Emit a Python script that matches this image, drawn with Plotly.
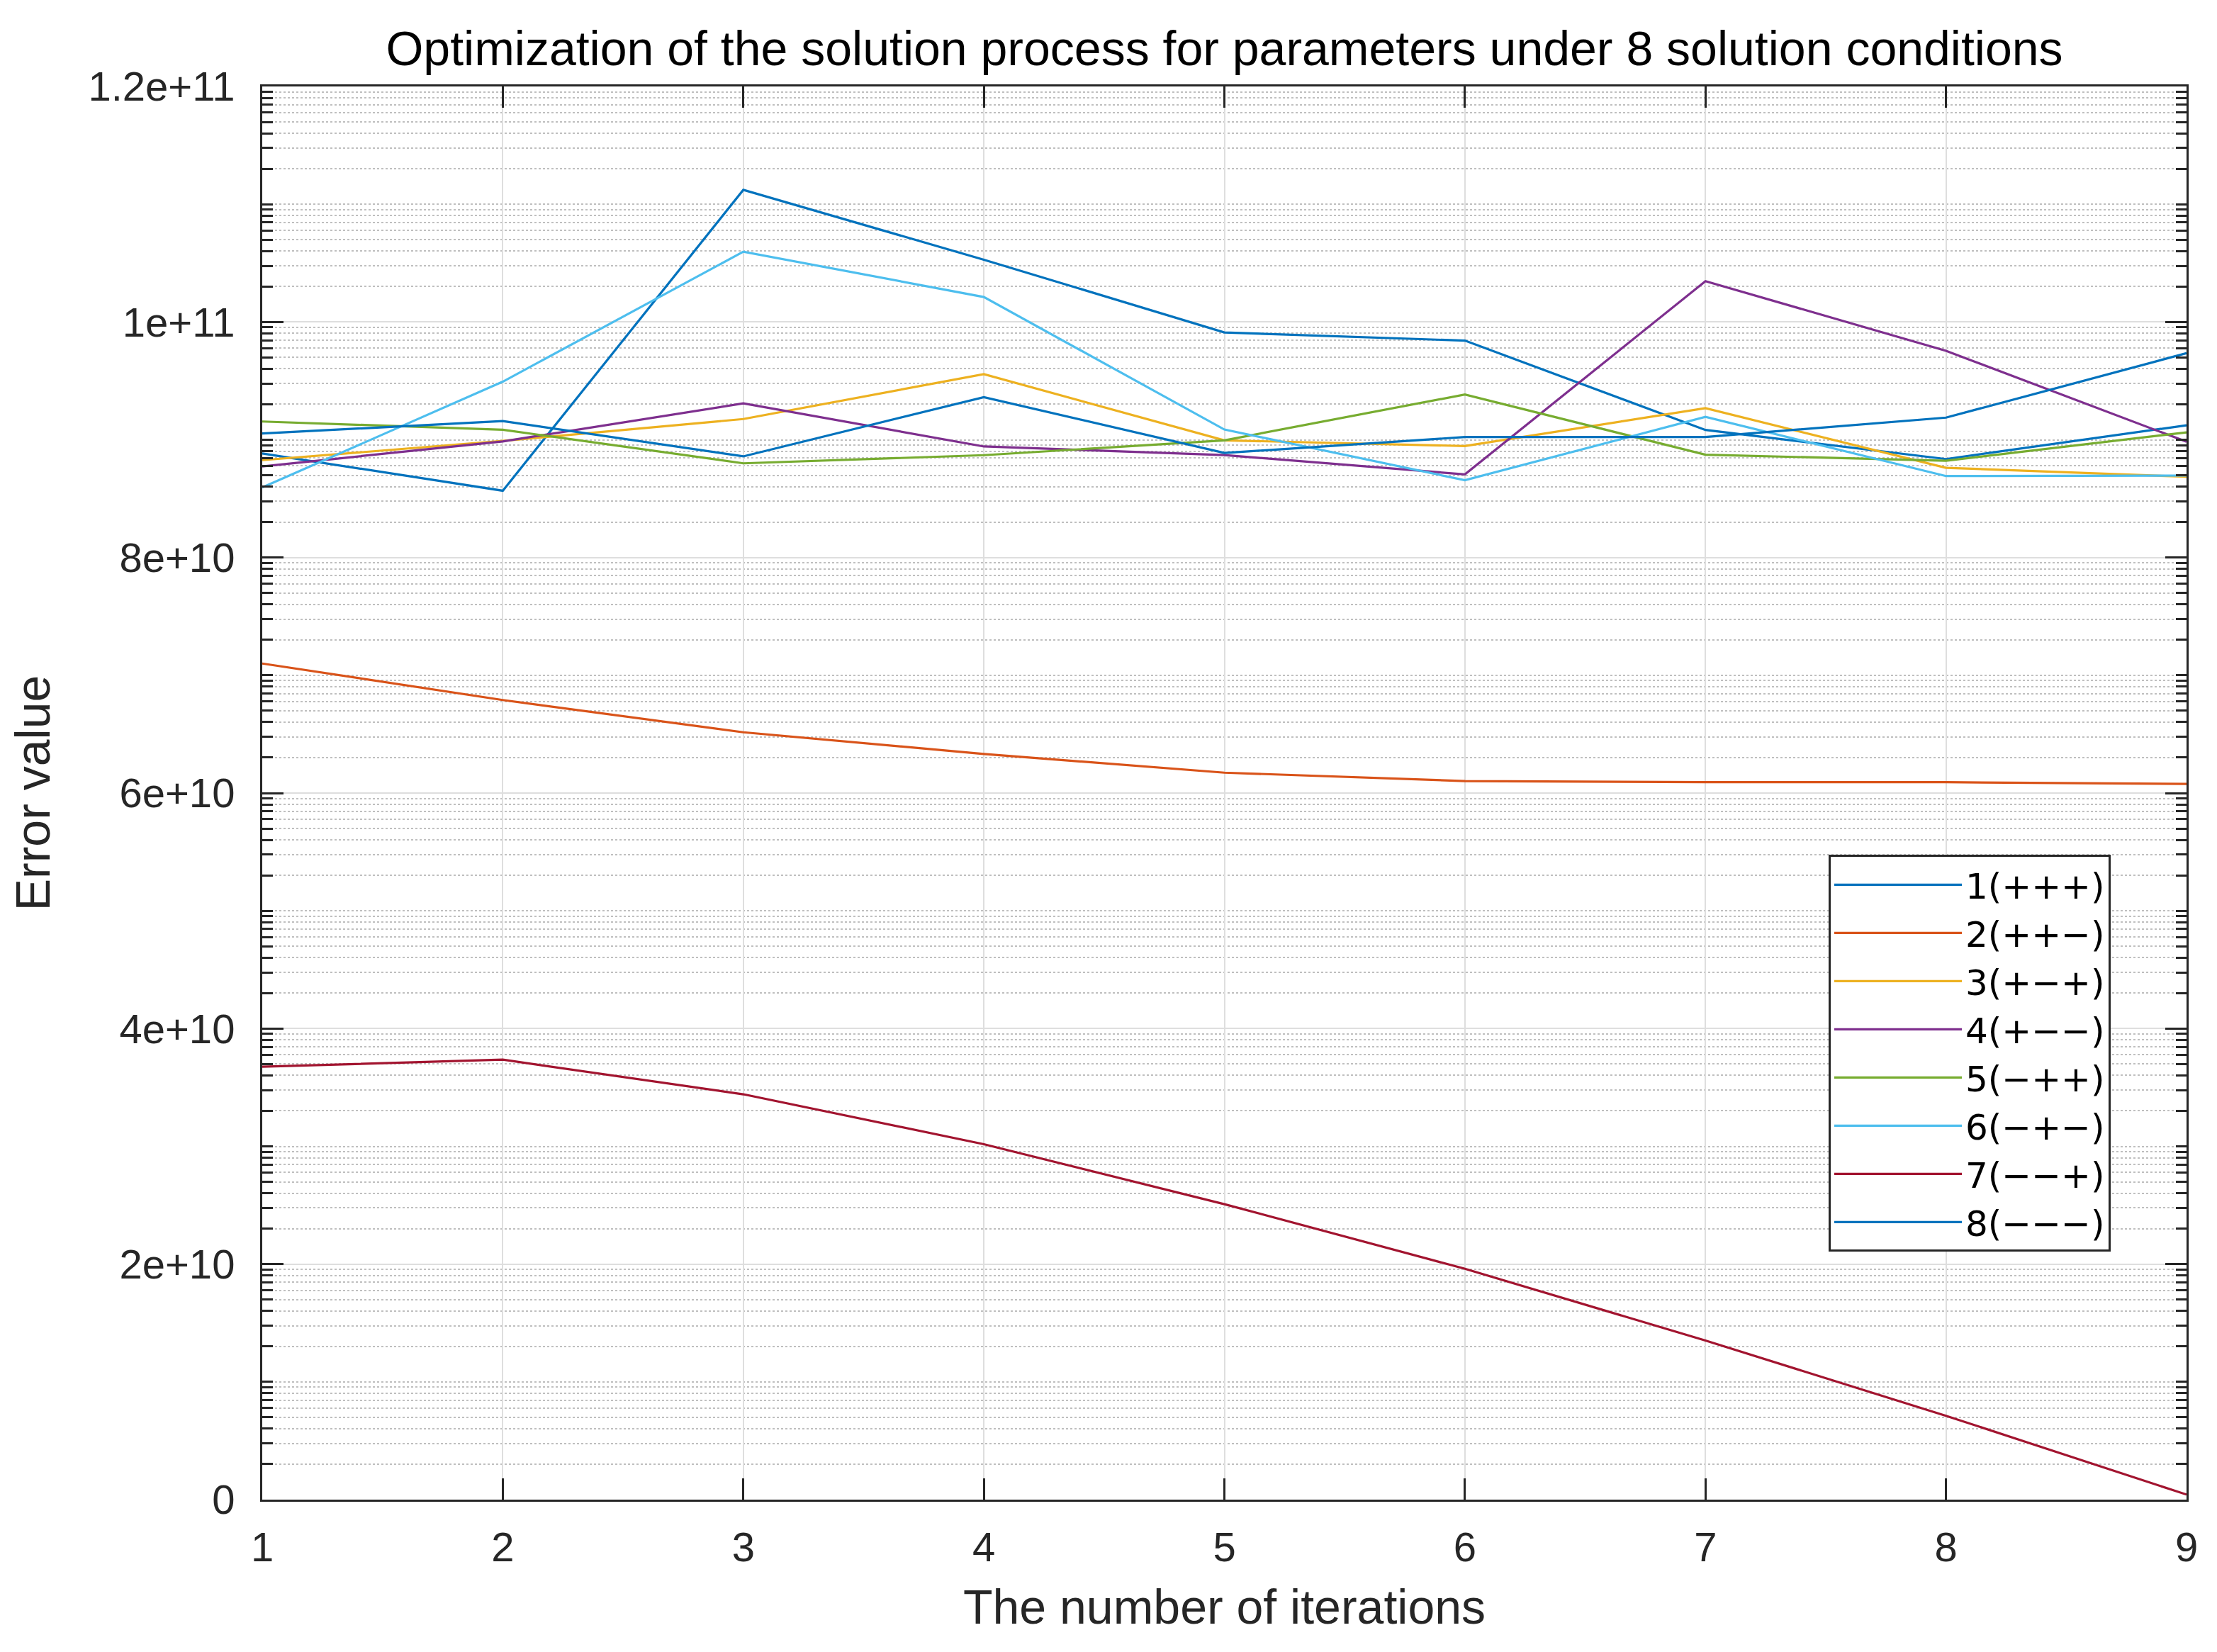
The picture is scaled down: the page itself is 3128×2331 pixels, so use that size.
import math
import plotly.graph_objects as go

iterations = [1, 2, 3, 4, 5, 6, 7, 8, 9]

series_names = ["1(+++)", "2(++−)", "3(+−+)", "4(+−−)", "5(−++)", "6(−+−)", "7(−−+)", "8(−−−)"]

s1 = [8.884e10, 8.567e10, 11.122e10, 10.529e10, 9.911e10, 9.842e10, 9.083e10, 8.836e10, 9.123e10]
s2 = [7.100e10, 6.790e10, 6.516e10, 6.332e10, 6.173e10, 6.102e10, 6.092e10, 6.092e10, 6.077e10]
s3 = [8.827e10, 8.990e10, 9.176e10, 9.557e10, 8.995e10, 8.947e10, 9.268e10, 8.762e10, 8.686e10]
s4 = [8.774e10, 8.986e10, 9.309e10, 8.943e10, 8.870e10, 8.706e10, 10.347e10, 9.755e10, 8.983e10]
s5 = [9.155e10, 9.085e10, 8.800e10, 8.869e10, 8.995e10, 9.384e10, 8.873e10, 8.822e10, 9.063e10]
s6 = [8.595e10, 9.493e10, 10.597e10, 10.212e10, 9.087e10, 8.656e10, 9.194e10, 8.692e10, 8.696e10]
s7 = [3.676e10, 3.736e10, 3.442e10, 3.018e10, 2.509e10, 1.960e10, 1.351e10, 0.712e10, 0.043e10]
s8 = [9.053e10, 9.159e10, 8.859e10, 9.362e10, 8.888e10, 9.023e10, 9.023e10, 9.188e10, 9.735e10]
series_values = [s1, s2, s3, s4, s5, s6, s7, s8]

colors = ["#0072BD", "#D95319", "#EDB120", "#7E2F8E", "#77AC30", "#4DBEEE", "#A2142F", "#0072BD"]

y_tickvals = [0, 2e10, 4e10, 6e10, 8e10, 1e11, 1.2e11]
y_ticktext = ["0", "2e+10", "4e+10", "6e+10", "8e+10", "1e+11", "1.2e+11"]
x_tickvals = [1, 2, 3, 4, 5, 6, 7, 8, 9]
x_ticktext = ["1", "2", "3", "4", "5", "6", "7", "8", "9"]

# minor grid positions as drawn by the original (log-spaced within each 1e10 step)
minor_vals = []
for d in range(12):
    for k in range(2, 11):
        v = (d + math.log10(k)) * 1e10
        if v < 1.2e11 - 1 and abs(v / 2e10 - round(v / 2e10)) > 1e-6:
            minor_vals.append(v)

W, H = 3128, 2331
L, R, T, B = 362, 3077, 113.6, 2107.6

fig = go.Figure()
for name, vals, col in zip(series_names, series_values, colors):
    fig.add_trace(go.Scatter(x=iterations, y=vals, mode="lines", name=name,
                             line=dict(color=col, width=3.2)))

axis_font = dict(family="Liberation Sans, Arial, sans-serif", size=58, color="#262626")

fig.update_layout(
    width=W, height=H,
    margin=dict(l=L, r=W - R, t=T, b=H - B, pad=0),
    paper_bgcolor="white", plot_bgcolor="white",
    title=dict(text="Optimization of the solution process for parameters under 8 solution conditions",
               x=(L + R) / 2 / W, xanchor="center", xref="container",
               y=1 - 60 / H, yanchor="middle", yref="container",
               font=dict(family="Liberation Sans, Arial, sans-serif", size=68, color="black")),
    showlegend=True,
    legend=dict(x=(2572 - L) / (R - L), y=(B - 1198) / (B - T), xanchor="left", yanchor="top",
                bgcolor="white", bordercolor="#262626", borderwidth=3,
                font=dict(family="DejaVu Sans", size=50, color="black"),
                itemwidth=180, tracegroupgap=0),
)

fig.update_xaxes(
    range=[1, 9], tickvals=x_tickvals, ticktext=x_ticktext,
    ticks="inside", ticklen=30, tickwidth=3, tickcolor="#262626",
    showline=True, linecolor="#262626", linewidth=3, mirror="ticks",
    showgrid=True, gridcolor="#dedede", gridwidth=2, zeroline=False,
    tickfont=axis_font, ticklabelstandoff=14,
    title=dict(text="The number of iterations", font=dict(family="Liberation Sans, Arial, sans-serif", size=68, color="#262626"), standoff=30),
)
fig.update_yaxes(
    range=[0, 1.2e11], tickvals=y_tickvals, ticktext=y_ticktext,
    ticks="inside", ticklen=30, tickwidth=3, tickcolor="#262626",
    showline=True, linecolor="#262626", linewidth=3, mirror="ticks",
    showgrid=True, gridcolor="#dedede", gridwidth=2, zeroline=False,
    tickfont=axis_font, ticklabelstandoff=24,
    minor=dict(tickmode="array", tickvals=minor_vals, ticks="inside", ticklen=15, tickwidth=3,
               tickcolor="#262626", showgrid=True, gridcolor="rgba(26,26,26,0.28)", griddash="dot", gridwidth=2),
    title=dict(text="Error value", font=dict(family="Liberation Sans, Arial, sans-serif", size=68, color="#262626"), standoff=40),
)

fig.write_html("out.html")
